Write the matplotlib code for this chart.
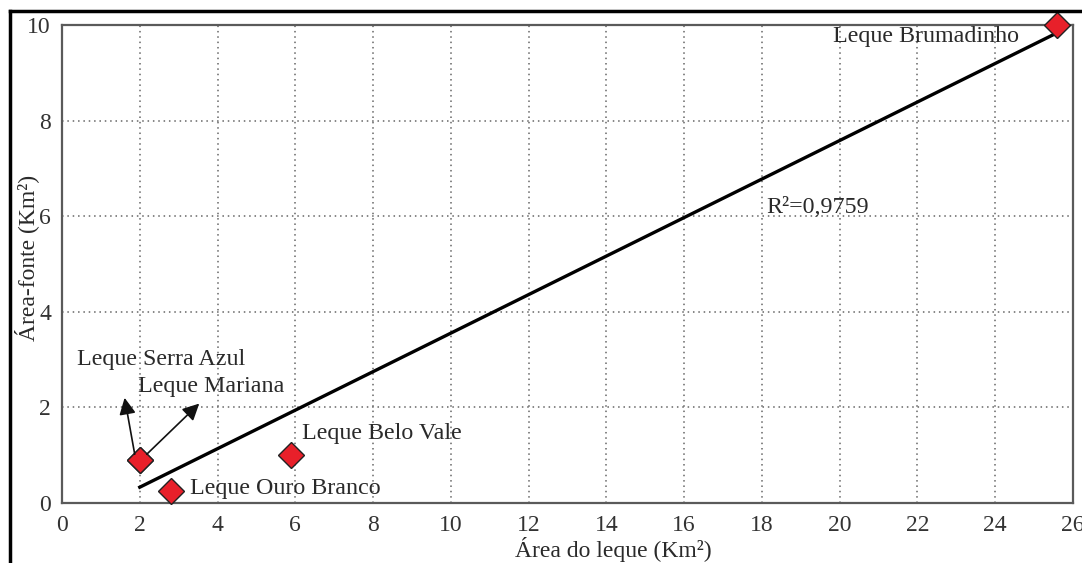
import matplotlib
matplotlib.use("Agg")
import matplotlib.pyplot as plt
from matplotlib.lines import Line2D

# Data
names = ['Leque Serra Azul', 'Leque Mariana', 'Leque Ouro Branco', 'Leque Belo Vale', 'Leque Brumadinho']
area_leque = [2.0, 2.0, 2.8, 5.9, 25.6]
area_fonte = [0.9, 0.9, 0.25, 1.0, 10.0]
trend_x = [2.0, 25.6]
trend_y = [0.33, 9.84]
r2_text = 'R²=0,9759'
xticks = [0, 2, 4, 6, 8, 10, 12, 14, 16, 18, 20, 22, 24, 26]
yticks = [0, 2, 4, 6, 8, 10]

plt.rcParams['font.family'] = ['Liberation Serif', 'DejaVu Serif']

fig = plt.figure(figsize=(10.82, 5.63), dpi=100)
ax = fig.add_axes([0.0573, 0.1066, 0.9344, 0.849])

ax.set_xlim(0, 26)
ax.set_ylim(0, 10)
ax.set_xticks(xticks)
ax.set_yticks(yticks)
ax.grid(True, linestyle=(0, (1, 2.5)), color='#666666', linewidth=1.1)
ax.set_axisbelow(True)
for s in ax.spines.values():
    s.set_color('#5a5a5a')
    s.set_linewidth(1.6)
ax.tick_params(length=0, labelsize=17, colors='#333333', pad=8)
ax.tick_params(axis='x', pad=9)

ax.plot(trend_x, trend_y, color='black', linewidth=2.4, zorder=3)
ax.plot(area_leque, area_fonte, linestyle='none', marker='D', markersize=13,
        markerfacecolor='#e8202a', markeredgecolor='#222222', markeredgewidth=1.0,
        zorder=4, clip_on=False)

tc = '#2a2a2a'
fs = 17.3
label_pos = {
    'Leque Serra Azul': (0.39, 3.01),
    'Leque Mariana': (1.96, 2.43),
    'Leque Ouro Branco': (3.28, 0.31),
    'Leque Belo Vale': (6.16, 1.46),
    'Leque Brumadinho': (19.82, 9.75),
}
for n in names:
    px, py = label_pos[n]
    ax.text(px, py, n, ha='left', va='center', fontsize=fs, color=tc, zorder=5)
ax.text(18.12, 6.19, r2_text, ha='left', va='center', fontsize=fs, color=tc, zorder=5)

arrow_kw = dict(arrowstyle='-|>', color='#111111', lw=1.2, mutation_scale=25,
                shrinkA=0, shrinkB=0)
ax.annotate('', xy=(1.61, 2.2), xytext=(1.87, 1.02), arrowprops=arrow_kw, zorder=5)
ax.annotate('', xy=(3.53, 2.08), xytext=(2.18, 1.02), arrowprops=arrow_kw, zorder=5)

fig.text(613 / 1082, 1 - 550 / 563, 'Área do leque (Km²)', ha='center', va='center',
         fontsize=17, color=tc)
fig.text(27 / 1082, 1 - 258 / 563, 'Área-fonte (Km²)', ha='center', va='center',
         fontsize=17, color=tc, rotation=90)

# Outer frame (left and top)
fig.add_artist(Line2D([10 / 1082, 10 / 1082], [0, 1 - 11 / 563], color='black',
                      linewidth=2.5, transform=fig.transFigure))
fig.add_artist(Line2D([10 / 1082, 1], [1 - 11 / 563, 1 - 11 / 563], color='black',
                      linewidth=2.5, transform=fig.transFigure))

fig.savefig('out.png', dpi=100)
